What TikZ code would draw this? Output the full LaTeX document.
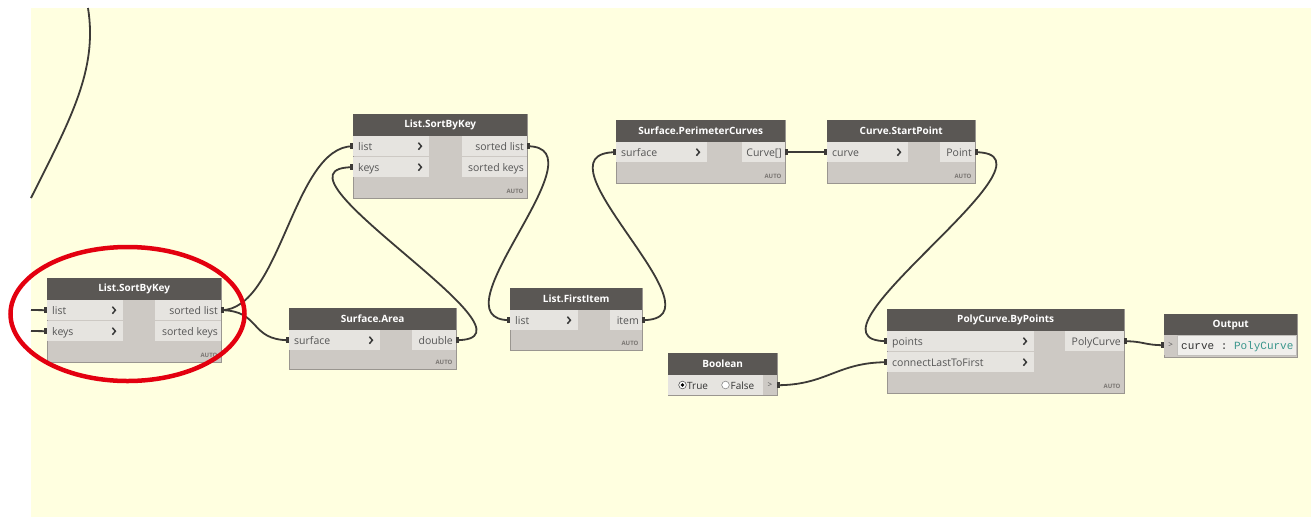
\documentclass[tikz,border=0pt]{standalone}
\usepackage{fontspec}
\setmainfont{Open Sans}
\setmonofont{Liberation Mono}
\definecolor{bgc}{HTML}{FFFFE0}
\definecolor{headc}{HTML}{5A5754}
\definecolor{bodyc}{HTML}{CDC9C4}
\definecolor{rowc}{HTML}{E6E4E0}
\definecolor{bordc}{HTML}{9A9690}
\definecolor{txtc}{HTML}{555555}
\definecolor{chevc}{HTML}{3A3A3A}
\definecolor{wirec}{HTML}{3C3A37}
\definecolor{autoc}{HTML}{7A7672}
\definecolor{ringc}{HTML}{E3000F}
\definecolor{tealc}{HTML}{3A968C}
\pgfdeclarelayer{back}
\pgfdeclarelayer{wires}
\pgfsetlayers{back,wires,main}
\newcommand{\dynnode}[6]{%
  \node[nbody, minimum width=#4pt, minimum height=#5pt, anchor=north west] (#1) at (#2,#3) {};
  \node[nhead, minimum width=#4pt, anchor=north west] (#1h) at (#2,#3) {#6};}
\newcommand{\autotag}[1]{\node[autol, anchor=south east] (#1auto) at ([xshift=-4pt,yshift=5pt]#1.south east) {AUTO};}
\newcommand{\inport}[5]{%
  \node[prow, minimum width=#4pt, anchor=north west] (#1) at (#2,#3) {};
  \node[ptxt, anchor=base west] (#1t) at ([xshift=5pt,yshift=-4pt]#1.west) {#5};
  \draw[chev] ([xshift=-11pt,yshift=3.5pt]#1.east) -- ([xshift=-8pt]#1.east) -- ([xshift=-11pt,yshift=-3.5pt]#1.east);}
\newcommand{\outport}[5]{%
  \node[prow, minimum width=#4pt, anchor=north east] (#1) at (#2,#3) {};
  \node[ptxt, anchor=base east] (#1t) at ([xshift=-3pt,yshift=-4pt]#1.east) {#5};}
\newcommand{\intab}[1]{\fill[wirec] ([yshift=3pt]#1.west) rectangle ([xshift=-3pt,yshift=-3pt]#1.west);}
\newcommand{\outtab}[1]{\fill[wirec] ([yshift=3pt]#1.east) rectangle ([xshift=3pt,yshift=-3pt]#1.east);}
\begin{document}
\begin{tikzpicture}[x=1pt,y=-1pt,
  nbody/.style={draw=bordc, line width=0.6pt, fill=bodyc, inner sep=0pt},
  nhead/.style={fill=headc, text=white, font=\fontsize{10}{12}\selectfont\bfseries, minimum height=22pt, inner sep=0pt},
  prow/.style={fill=rowc, minimum height=20pt, inner sep=0pt},
  ptxt/.style={text=txtc, font=\fontsize{10.5}{12}\selectfont, inner sep=0pt},
  chev/.style={draw=chevc, line width=1.5pt},
  wire/.style={draw=wirec, line width=1.8pt},
  autol/.style={text=autoc, font=\fontsize{6}{7}\selectfont\bfseries, inner sep=0pt},
  ring/.style={draw=ringc, line width=4.5pt}
]
\useasboundingbox (0,0) rectangle (1311,517);
\begin{pgfonlayer}{back}
\fill[bgc] (31,8) rectangle (1311,517);
\end{pgfonlayer}

% List.SortByKey (left)
\dynnode{A}{47}{278}{174}{84}{List.SortByKey}
\inport{Ain1}{47}{300}{76}{list}
\inport{Ain2}{47}{321}{76}{keys}
\outport{Aout1}{221}{300}{66}{sorted list}
\outport{Aout2}{221}{321}{66}{sorted keys}
\autotag{A}

% List.SortByKey (top)
\dynnode{B}{353}{114}{174}{84}{List.SortByKey}
\inport{Bin1}{353}{136}{76}{list}
\inport{Bin2}{353}{157}{76}{keys}
\outport{Bout1}{527}{136}{65}{sorted list}
\outport{Bout2}{527}{157}{65}{sorted keys}
\autotag{B}

% Surface.Area
\dynnode{C}{289}{308}{167}{61}{Surface.Area}
\inport{Cin1}{289}{330}{91}{surface}
\outport{Cout1}{456}{330}{44}{double}
\autotag{C}

% List.FirstItem
\dynnode{D}{510}{288}{132}{62}{List.FirstItem}
\inport{Din1}{510}{310}{68}{list}
\outport{Dout1}{642}{310}{32}{item}
\autotag{D}

% Surface.PerimeterCurves
\dynnode{E}{616}{120}{169}{63}{Surface.PerimeterCurves}
\inport{Ein1}{616}{142}{91}{surface}
\outport{Eout1}{785}{142}{43}{Curve[]}
\autotag{E}

% Curve.StartPoint
\dynnode{F}{827}{120}{148}{63}{Curve.StartPoint}
\inport{Fin1}{827}{142}{81}{curve}
\outport{Fout1}{975}{142}{35}{Point}
\autotag{F}

% Boolean
\dynnode{G}{668}{353}{109}{42}{Boolean}
\node[prow, minimum width=95pt, anchor=north west] (Grow) at (668,375) {};
\node[fill=bodyc, minimum width=14pt, minimum height=20pt, inner sep=0pt, anchor=north east, text=txtc, font=\fontsize{8}{9}\selectfont] (Gout1) at (777,375) {>};
\draw[draw=txtc, fill=white, line width=0.6pt] (682.5,385) circle [radius=3.8];
\fill[black] (682.5,385) circle [radius=1.9];
\node[ptxt, text=black!80, font=\fontsize{10}{12}\selectfont, anchor=base west] (Gtrue) at (687,389) {True};
\draw[draw=txtc!70, fill=white, line width=0.6pt] (725.5,385) circle [radius=3.8];
\node[ptxt, text=black!80, font=\fontsize{10}{12}\selectfont, anchor=base west] (Gfalse) at (730.5,389) {False};

% PolyCurve.ByPoints
\dynnode{H}{887}{309}{237}{84}{PolyCurve.ByPoints}
\inport{Hin1}{887}{331}{147}{points}
\inport{Hin2}{887}{352}{147}{connectLastToFirst}
\outport{Hout1}{1124}{331}{59}{PolyCurve}
\autotag{H}

% Output
\dynnode{I}{1164}{314}{133}{43}{Output}
\node[fill=bodyc, minimum width=13pt, minimum height=20pt, inner sep=0pt, anchor=north west, text=txtc, font=\fontsize{8}{9}\selectfont] (Iin1) at (1164,335) {>};
\node[fill=rowc!60!white, draw=bordc!60, line width=0.4pt, minimum width=119pt, minimum height=20pt, inner sep=0pt, anchor=north west] (Ival) at (1177,335) {};
\node[anchor=base west, inner sep=0pt, font=\ttfamily\fontsize{11}{13}\selectfont, text=black!80] (Ivalt) at (1181,349) {curve : \textcolor{tealc}{PolyCurve}};

% wires
\coordinate (T0) at (88,8);
\coordinate (T1) at (31,198);
\coordinate (L1) at (31,310);
\coordinate (L2) at (31,331);
\begin{pgfonlayer}{wires}
\draw[wire] (T0) .. controls (98,70) and (70,120) .. (T1);
\draw[wire] (L1) -- (Ain1.west);
\draw[wire] (L2) -- (Ain2.west);
\draw[wire] (Aout1.east) .. controls +(60,0) and +(-60,0) .. (Bin1.west);
\draw[wire] (Aout1.east) .. controls +(40,0) and +(-40,0) .. (Cin1.west);
\draw[wire] (Cout1.east) .. controls +(100,0) and +(-100,0) .. (Bin2.west);
\draw[wire] (Bout1.east) .. controls +(80,0) and +(-80,0) .. (Din1.west);
\draw[wire] (Dout1.east) .. controls +(90,0) and +(-90,0) .. (Ein1.west);
\draw[wire] (Eout1.east) -- (Fin1.west);
\draw[wire] (Fout1.east) .. controls +(100,0) and +(-100,0) .. (Hin1.west);
\draw[wire] (Gout1.east) .. controls +(50,0) and +(-50,0) .. (Hin2.west);
\draw[wire] (Hout1.east) .. controls +(20,0) and +(-20,0) .. (Iin1.west);
\end{pgfonlayer}
\intab{Ain1}\intab{Ain2}\outtab{Aout1}
\intab{Bin1}\intab{Bin2}\outtab{Bout1}
\intab{Cin1}\outtab{Cout1}
\intab{Din1}\outtab{Dout1}
\intab{Ein1}\outtab{Eout1}
\intab{Fin1}\outtab{Fout1}
\outtab{Gout1}
\intab{Hin1}\intab{Hin2}\outtab{Hout1}
\intab{Iin1}

% red ring
\draw[ring] (127.5,314) ellipse [x radius=117, y radius=67];
\end{tikzpicture}
\end{document}
